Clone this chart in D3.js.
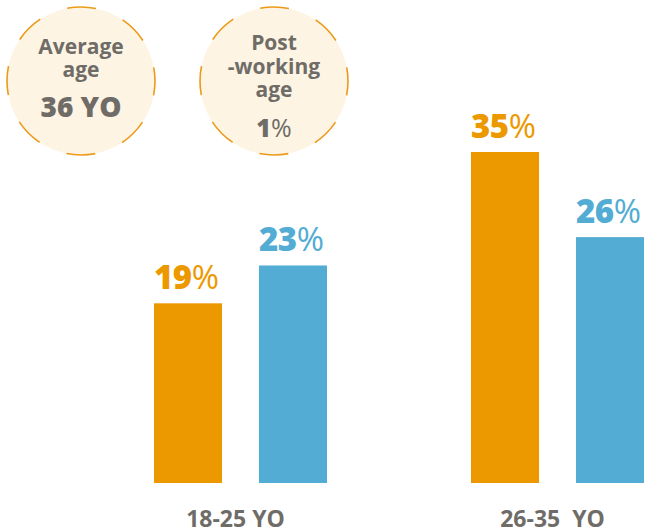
<!DOCTYPE html>
<html>
<head>
<meta charset="utf-8">
<script src="https://cdn.jsdelivr.net/npm/d3@7"></script>
<style>
  body { margin: 0; background: #fff; }
  svg { display: block; font-family: 'Open Sans', sans-serif; }
</style>
</head>
<body>
<div id="chart"></div>
<script>
// chart data
const categories = ['18-25 YO', '26-35  YO'];
const series = ['a', 'b'];
const valuesA = [19, 35];
const valuesB = [23, 26];
const bubbleTitles = [['Average', 'age'], ['Post', '-working', 'age']];
const bubbleValues = [['36 YO', ''], ['1', '%']];

const width = 646;
const height = 532;
const colors = { a: '#ec9900', b: '#52acd3' };
const grey = '#6f6c68';

const svg = d3.select('#chart')
  .append('svg')
  .attr('width', width)
  .attr('height', height);

const rows = categories.map((c, i) => ({ cat: c, a: valuesA[i], b: valuesB[i] }));

const x0 = d3.scaleBand()
  .domain(categories)
  .range([154, 644])
  .paddingInner(0.4543)
  .paddingOuter(0);

const x1 = d3.scaleBand()
  .domain(series)
  .range([0, x0.bandwidth()])
  .paddingInner(0.352)
  .paddingOuter(0);

const y = d3.scaleLinear()
  .domain([0, d3.max(rows, (d) => Math.max(d.a, d.b))])
  .range([483, 152]);

// bars
const groups = svg.append('g').attr('class', 'bars')
  .selectAll('g')
  .data(rows)
  .join('g')
  .attr('transform', (d) => `translate(${x0(d.cat)},0)`);

const cells = groups.selectAll('g')
  .data((d) => series.map((s) => ({ key: s, value: d[s] })))
  .join('g');

cells.append('rect')
  .attr('x', (d) => x1(d.key))
  .attr('y', (d) => y(d.value))
  .attr('width', x1.bandwidth())
  .attr('height', (d) => y(0) - y(d.value))
  .attr('fill', (d) => colors[d.key]);

const lbl = cells.append('text')
  .attr('x', (d) => x1(d.key))
  .attr('y', (d) => y(d.value) - 14)
  .attr('fill', (d) => colors[d.key])
  .style('font-size', '33px');

lbl.append('tspan')
  .style('font-weight', 800)
  .style('letter-spacing', '-0.5px')
  .text((d) => d.value);
lbl.append('tspan')
  .style('font-weight', 400)
  .text('%');

// category labels
svg.append('g')
  .selectAll('text')
  .data(categories)
  .join('text')
  .attr('x', (d) => x0(d) + x0.bandwidth() / 2 - 5)
  .attr('y', 527)
  .attr('text-anchor', 'middle')
  .attr('fill', grey)
  .style('font-size', '23px')
  .style('font-weight', 700)
  .style('white-space', 'pre')
  .text((d) => d);

// bubbles
const r = 74;
const bubbleX = [81, 274];
const cy = 81;
const circ = 2 * Math.PI * r;
const seg = circ / 8;

const bubbles = svg.append('g')
  .selectAll('g')
  .data(bubbleTitles)
  .join('g')
  .attr('transform', (d, i) => `translate(${bubbleX[i]},${cy})`);

bubbles.append('circle')
  .attr('r', r)
  .attr('fill', '#fdf4e3')
  .attr('stroke', '#ec9a1a')
  .attr('stroke-width', 1.6)
  .attr('stroke-dasharray', `${seg / 2} ${seg / 2}`)
  .attr('stroke-dashoffset', seg / 4);

// bubble 1
const b1 = bubbles.filter((d, i) => i === 0);
b1.append('text')
  .attr('text-anchor', 'middle')
  .attr('fill', grey)
  .style('font-size', '21px')
  .style('font-weight', 700)
  .selectAll('tspan')
  .data((d) => d)
  .join('tspan')
  .attr('x', 0)
  .attr('y', (d, i) => -27 + i * 23)
  .text((d) => d);
b1.append('text')
  .attr('text-anchor', 'middle')
  .attr('y', 36)
  .attr('fill', grey)
  .style('font-size', '28px')
  .style('font-weight', 800)
  .text(bubbleValues[0][0]);

// bubble 2
const b2 = bubbles.filter((d, i) => i === 1);
b2.append('text')
  .attr('text-anchor', 'middle')
  .attr('fill', grey)
  .style('font-size', '21px')
  .style('font-weight', 700)
  .selectAll('tspan')
  .data((d) => d)
  .join('tspan')
  .attr('x', 0)
  .attr('y', (d, i) => -31 + i * 23.5)
  .text((d) => d);
const pct = b2.append('text')
  .attr('text-anchor', 'middle')
  .attr('y', 56)
  .attr('fill', grey)
  .style('font-size', '25px');
pct.append('tspan').style('font-weight', 800).text(bubbleValues[1][0]);
pct.append('tspan').style('font-weight', 400).text(bubbleValues[1][1]);
</script>
</body>
</html>
